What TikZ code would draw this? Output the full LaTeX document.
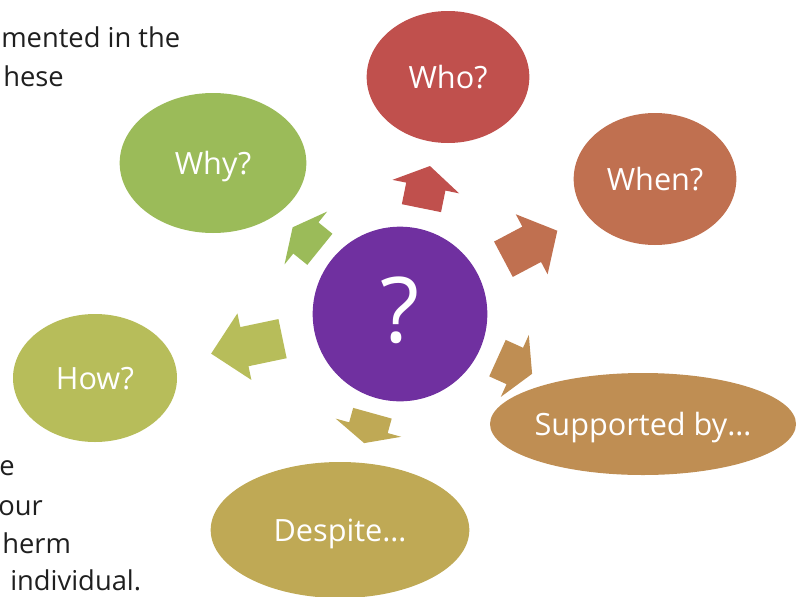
\documentclass[tikz,border=0pt]{standalone}
\usepackage{fontspec}
\setmainfont{Open Sans}
\usetikzlibrary{shapes.geometric, calc}
\definecolor{WhoRed}{HTML}{C0504D}
\definecolor{WhenRust}{HTML}{C07050}
\definecolor{SuppTan}{HTML}{BF8E53}
\definecolor{DespOchre}{HTML}{BFA955}
\definecolor{HowOlive}{HTML}{B7BD5A}
\definecolor{WhyGreen}{HTML}{9BBB59}
\definecolor{HubPurple}{HTML}{7030A0}
% block arrow from #1 towards #2, colour #3, base/neck/tip radii #4/#5/#6
\newcommand{\spoke}[6]{%
  \path let \p1=($(#2)-(#1)$) in
    \pgfextra{\pgfmathparse{atan2(\y1,\x1)}\xdef\spokeangle{\pgfmathresult}};
  \fill[#3, shift={(#1)}, rotate=\spokeangle]
    (#4,-20) -- (#5,-20) -- (#5,-34) -- (#6,0) -- (#5,34) -- (#5,20) -- (#4,20) -- cycle;}

\begin{document}
\begin{tikzpicture}[x=0.75pt, y=-0.75pt,
    bubble/.style={ellipse, inner sep=0pt},
    word/.style={text=white, font=\fontsize{23}{27}\selectfont,
                 text height=16.5pt, text depth=0pt, inner sep=0pt},
    note/.style={anchor=base west, inner sep=0pt, text=black!88,
                 font=\fontsize{20.5}{24}\selectfont},
  ]
    \useasboundingbox (0,0) rectangle (802,596);

    % text running in from the left
    \node[note] (t1) at (1,47)   {mented in the};
    \node[note] (t2) at (3,86)   {hese};
    \node[note] (b1) at (-1,475) {e};
    \node[note] (b2) at (-2,515) {our};
    \node[note] (b3) at (2,553)  {herm};
    \node[note] (b4) at (10,590) {individual.};

    \node[circle, fill=HubPurple, minimum size=131pt, inner sep=0pt, text=white,
          text depth=6pt, font=\fontsize{68}{72}\selectfont] (ctr) at (400,314) {?};

    \node[bubble, fill=WhoRed, minimum width=122pt, minimum height=99pt,
          label={[word]center:Who?}] (who) at (448,77) {};
    \node[bubble, fill=WhenRust, minimum width=122pt, minimum height=99pt,
          label={[word]center:When?}] (when) at (655,179) {};
    \node[bubble, fill=SuppTan, minimum width=229.5pt, minimum height=76.5pt,
          label={[word]center:Supported by…}] (supp) at (643,424) {};
    \node[bubble, fill=DespOchre, minimum width=194pt, minimum height=102pt,
          label={[word]center:Despite…}] (despite) at (340,530) {};
    \node[bubble, fill=HowOlive, minimum width=123pt, minimum height=96pt,
          label={[word]center:How?}] (how) at (95,378) {};
    \node[bubble, fill=WhyGreen, minimum width=140pt, minimum height=105pt,
          label={[word]center:Why?}] (why) at (213,163) {};

    \spoke{ctr}{who}{WhoRed}{108}{130}{151}
    \spoke{ctr}{when}{WhenRust}{117}{149}{178}
    \spoke{ctr}{supp}{SuppTan}{107}{126}{145}
    \spoke{ctr}{despite}{DespOchre}{103}{118}{134}
    \spoke{ctr}{how}{HowOlive}{120}{159}{193}
    \spoke{ctr}{why}{WhyGreen}{103}{121}{138}
\end{tikzpicture}
\end{document}
